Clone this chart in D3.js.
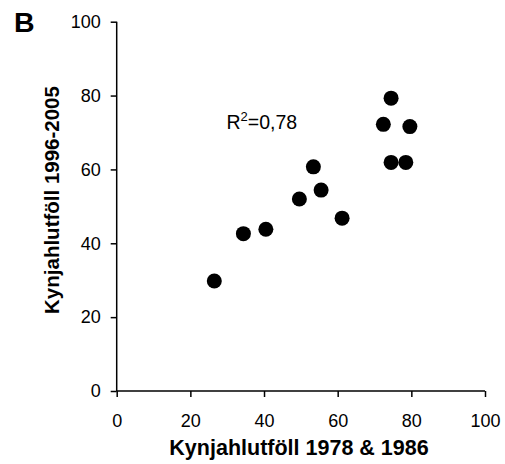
<!DOCTYPE html>
<html>
<head>
<meta charset="utf-8">
<script src="https://cdn.jsdelivr.net/npm/d3@7"></script>
<style>
  html, body { margin: 0; padding: 0; background: #fff; }
  text { font-family: "Liberation Sans", Arial, sans-serif; }
</style>
</head>
<body>
<svg id="chart" width="505" height="464"></svg>
<script>
const xValues = [74.5, 72.4, 79.6, 74.5, 78.5, 53.4, 55.5, 49.6, 61.2, 34.4, 40.5, 26.5];
const yValues = [79.3, 72.2, 71.6, 61.9, 61.9, 60.7, 54.4, 52.0, 46.8, 42.6, 43.8, 29.8];
const xTicks = [0, 20, 40, 60, 80, 100];
const yTicks = [0, 20, 40, 60, 80, 100];
const xTitle = "Kynjahlutföll 1978 & 1986";
const yTitle = "Kynjahlutföll 1996-2005";
const panelLabel = "B";
const r2Label = "0,78";

const svg = d3.select("#chart");
const x = d3.scaleLinear().domain([0, 100]).range([116.7, 485]);
const y = d3.scaleLinear().domain([0, 100]).range([391, 21.7]);

// axes
const xAxis = svg.append("g").attr("transform", `translate(0,${y(0)})`)
  .call(d3.axisBottom(x).tickValues(xTicks).tickSize(6).tickPadding(17).tickSizeOuter(0));
const yAxis = svg.append("g").attr("transform", `translate(${x(0)},0)`)
  .call(d3.axisLeft(y).tickValues(yTicks).tickSize(6).tickPadding(10).tickSizeOuter(0));

[xAxis, yAxis].forEach(g => {
  g.selectAll("path").attr("stroke", "#000").attr("stroke-width", 1.5);
  g.selectAll("line").attr("stroke", "#000").attr("stroke-width", 1.5);
  g.selectAll("text").attr("font-size", 18).attr("fill", "#000")
    .attr("font-family", "'Liberation Sans', Arial, sans-serif");
});
xAxis.selectAll("path").attr("d", `M${x(0)},0H${x(100)}`);
yAxis.selectAll("path").attr("d", `M0,${y(0)}V${y(100)}`);

// points
const data = xValues.map((v, i) => ({ x: v, y: yValues[i] }));
svg.append("g").selectAll("circle").data(data).join("circle")
  .attr("cx", d => x(d.x)).attr("cy", d => y(d.y)).attr("r", 7.5).attr("fill", "#000");

// R^2 annotation
const r2 = svg.append("text").attr("x", 226.5).attr("y", 128.5)
  .attr("font-size", 19.5).attr("fill", "#000");
r2.append("tspan").text("R");
r2.append("tspan").attr("font-size", 13).attr("dy", -7.5).text("2");
r2.append("tspan").attr("dy", 7.5).text("=" + r2Label);

// titles
svg.append("text").attr("x", 299).attr("y", 455)
  .attr("text-anchor", "middle").attr("font-size", 21.5).attr("font-weight", "bold")
  .attr("fill", "#000").text(xTitle);
svg.append("text").attr("transform", `translate(59,200) rotate(-90)`)
  .attr("text-anchor", "middle").attr("font-size", 20.5).attr("font-weight", "bold")
  .attr("fill", "#000").text(yTitle);

// panel label
svg.append("text").attr("x", 14).attr("y", 32).attr("font-size", 28.5)
  .attr("font-weight", "bold").attr("fill", "#000").text(panelLabel);
</script>
</body>
</html>
